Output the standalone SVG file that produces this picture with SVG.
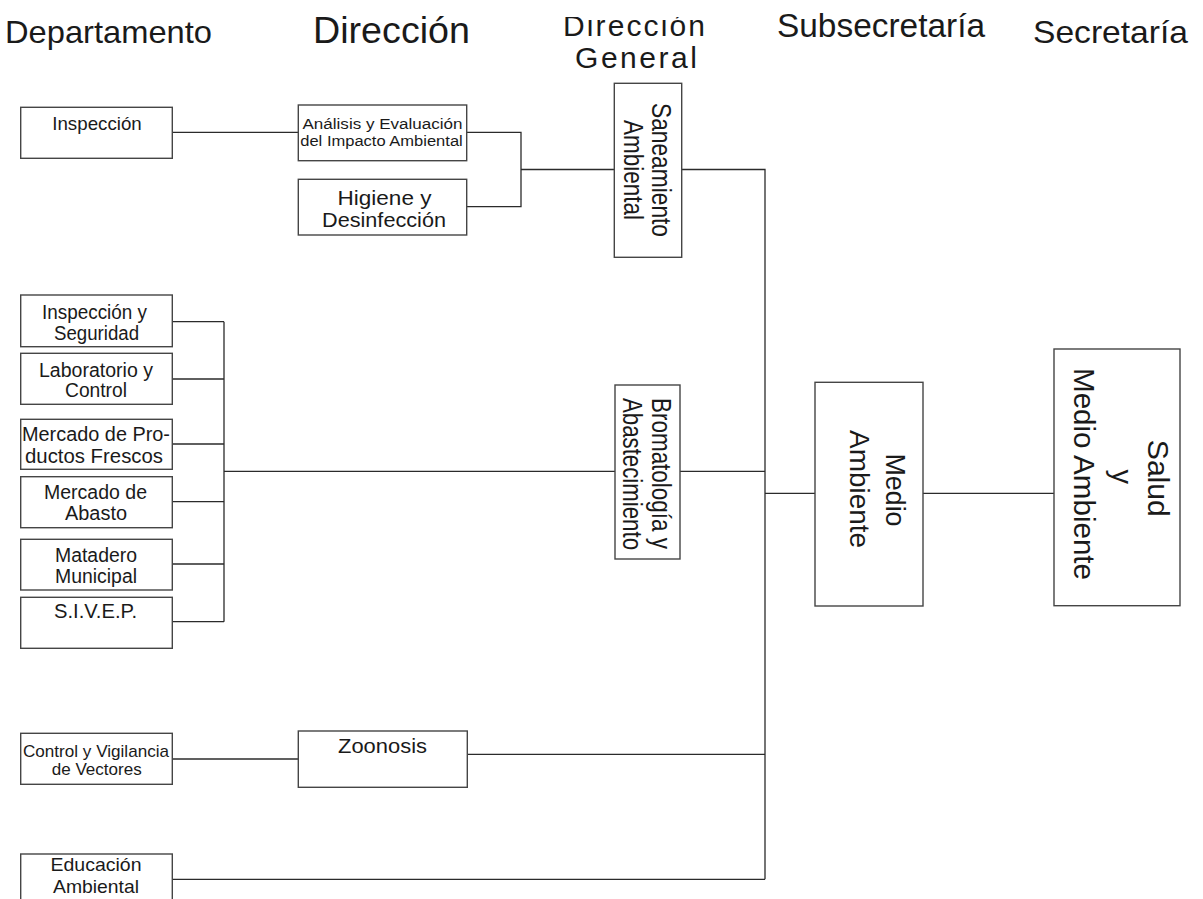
<svg xmlns="http://www.w3.org/2000/svg" width="1203" height="899" viewBox="0 0 1203 899">
<style>
text{font-family:"Liberation Sans",Arial,sans-serif;fill:#1a1a1a}
.c{text-anchor:middle}
.box{fill:#fff;stroke:#454545;stroke-width:1.4}
.ln{fill:none;stroke:#2b2b2b;stroke-width:1.3}
.f13{font-size:14px}
.f17{font-size:17px}
.f18{font-size:19px}
.f19{font-size:20px}
.f21{font-size:21px}
.r27{font-size:27.5px}
.r28{font-size:28px}
.r29{font-size:29px}
</style>
<defs>
<clipPath id="dgclip"><rect x="540" y="17" width="200" height="60"/></clipPath>
</defs>
<rect x="0" y="0" width="1203" height="899" fill="#fff"/>

<g id="headers">
<text x="5" y="43" font-size="30.5" textLength="207" lengthAdjust="spacingAndGlyphs">Departamento</text>
<text x="313" y="43" font-size="36" textLength="157" lengthAdjust="spacingAndGlyphs">Dirección</text>
<g clip-path="url(#dgclip)">
<text x="563" y="36" font-size="30" textLength="142">Dirección</text>
</g>
<text x="575" y="68" font-size="30" textLength="122">General</text>
<text x="777" y="37" font-size="33" textLength="208" lengthAdjust="spacingAndGlyphs">Subsecretaría</text>
<text x="1033" y="43" font-size="30.5" textLength="155" lengthAdjust="spacingAndGlyphs">Secretaría</text>
</g>

<g id="connectors">
<path class="ln" d="M172.3,132.3 H298.3"/>
<path class="ln" d="M466.7,132.3 H521 V206.7 H466.7"/>
<path class="ln" d="M521,169.5 H614.3"/>
<path class="ln" d="M681.7,169.5 H765 V879.3"/>
<path class="ln" d="M172.3,321.7 H224 M172.3,379 H224 M172.3,444 H224 M172.3,501.7 H224 M172.3,564 H224 M172.3,621.7 H224 M224,321.7 V621.7"/>
<path class="ln" d="M224,471.3 H615"/>
<path class="ln" d="M680,471.3 H765"/>
<path class="ln" d="M765,493.3 H815"/>
<path class="ln" d="M923,493.3 H1054"/>
<path class="ln" d="M172.3,759 H298.3"/>
<path class="ln" d="M467.3,754.3 H765"/>
<path class="ln" d="M172.3,879.3 H765"/>
</g>

<g id="n-inspeccion">
<rect class="box" x="20.7" y="107.3" width="151.6" height="51"/>
<text class="c f18" x="97" y="130" textLength="89.5" lengthAdjust="spacingAndGlyphs">Inspección</text>
</g>
<g id="n-analisis">
<rect class="box" x="298.3" y="105" width="168.4" height="55.7"/>
<text class="c f13" x="382.5" y="129" textLength="160" lengthAdjust="spacingAndGlyphs">Análisis y Evaluación</text>
<text class="c f13" x="381.5" y="145.7" textLength="162.5" lengthAdjust="spacingAndGlyphs">del Impacto Ambiental</text>
</g>
<g id="n-higiene">
<rect class="box" x="298.3" y="179.3" width="168.4" height="55.7"/>
<text class="c f21" x="384.5" y="205" textLength="94" lengthAdjust="spacingAndGlyphs">Higiene y</text>
<text class="c f21" x="384" y="227.3" textLength="124" lengthAdjust="spacingAndGlyphs">Desinfección</text>
</g>
<g id="n-saneamiento">
<rect class="box" x="614.3" y="83.3" width="67.4" height="174"/>
<text class="c r27" transform="translate(651.7,170) rotate(90)" textLength="134" lengthAdjust="spacingAndGlyphs">Saneamiento</text>
<text class="c r27" transform="translate(624,170) rotate(90)" textLength="100" lengthAdjust="spacingAndGlyphs">Ambiental</text>
</g>

<g id="n-insp-seg">
<rect class="box" x="20.7" y="295" width="151.6" height="51.7"/>
<text class="c f19" x="94.5" y="318.5" textLength="105" lengthAdjust="spacingAndGlyphs">Inspección y</text>
<text class="c f19" x="96.5" y="340" textLength="85" lengthAdjust="spacingAndGlyphs">Seguridad</text>
</g>
<g id="n-laboratorio">
<rect class="box" x="20.7" y="353.3" width="151.6" height="51"/>
<text class="c f19" x="96" y="376.5" textLength="114" lengthAdjust="spacingAndGlyphs">Laboratorio y</text>
<text class="c f19" x="96" y="397" textLength="62" lengthAdjust="spacingAndGlyphs">Control</text>
</g>
<g id="n-frescos">
<rect class="box" x="20.7" y="419.3" width="151.6" height="50"/>
<text class="c f19" x="96" y="440.5" textLength="148" lengthAdjust="spacingAndGlyphs">Mercado de Pro-</text>
<text class="c f19" x="94" y="462.5" textLength="138" lengthAdjust="spacingAndGlyphs">ductos Frescos</text>
</g>
<g id="n-abasto">
<rect class="box" x="20.7" y="476.7" width="151.6" height="51"/>
<text class="c f19" x="95.5" y="498.5" textLength="103" lengthAdjust="spacingAndGlyphs">Mercado de</text>
<text class="c f19" x="96" y="520" textLength="62" lengthAdjust="spacingAndGlyphs">Abasto</text>
</g>
<g id="n-matadero">
<rect class="box" x="20.7" y="539.3" width="151.6" height="50.7"/>
<text class="c f19" x="96" y="561.5" textLength="82" lengthAdjust="spacingAndGlyphs">Matadero</text>
<text class="c f19" x="96" y="583" textLength="82" lengthAdjust="spacingAndGlyphs">Municipal</text>
</g>
<g id="n-sivep">
<rect class="box" x="20.7" y="597.3" width="151.6" height="51"/>
<text class="c f19" x="95.5" y="617.5" textLength="83" lengthAdjust="spacingAndGlyphs">S.I.V.E.P.</text>
</g>

<g id="n-bromatologia">
<rect class="box" x="615" y="385" width="65" height="174"/>
<text class="c r27" transform="translate(651.7,473.5) rotate(90)" textLength="151" lengthAdjust="spacingAndGlyphs">Bromatología y</text>
<text class="c r27" transform="translate(623.3,474) rotate(90)" textLength="152" lengthAdjust="spacingAndGlyphs">Abastecimiento</text>
</g>

<g id="n-medio-ambiente">
<rect class="box" x="815" y="382.3" width="108" height="223.7"/>
<text class="c r28" transform="translate(886,490) rotate(90)" textLength="73" lengthAdjust="spacingAndGlyphs">Medio</text>
<text class="c r28" transform="translate(850,489) rotate(90)" textLength="118" lengthAdjust="spacingAndGlyphs">Ambiente</text>
</g>

<g id="n-salud">
<rect class="box" x="1054" y="349" width="126" height="256.7"/>
<text class="c r29" transform="translate(1148.3,478.3) rotate(90)" textLength="77" lengthAdjust="spacingAndGlyphs">Salud</text>
<text class="c r29" transform="translate(1112,476.7) rotate(90)">y</text>
<text class="c r29" transform="translate(1074,474) rotate(90)" textLength="212" lengthAdjust="spacingAndGlyphs">Medio Ambiente</text>
</g>

<g id="n-control-vig">
<rect class="box" x="20.7" y="733.3" width="151.6" height="51"/>
<text class="c f17" x="96" y="757" textLength="146" lengthAdjust="spacingAndGlyphs">Control y Vigilancia</text>
<text class="c f17" x="96.7" y="775" textLength="90" lengthAdjust="spacingAndGlyphs">de Vectores</text>
</g>
<g id="n-zoonosis">
<rect class="box" x="298.3" y="731" width="169" height="56.3"/>
<text class="c f21" x="382.5" y="753.3" textLength="89" lengthAdjust="spacingAndGlyphs">Zoonosis</text>
</g>
<g id="n-educacion">
<rect class="box" x="20.7" y="854" width="151.6" height="60"/>
<text class="c f18" x="96" y="870.7" textLength="91" lengthAdjust="spacingAndGlyphs">Educación</text>
<text class="c f18" x="96" y="892.7" textLength="86" lengthAdjust="spacingAndGlyphs">Ambiental</text>
</g>
</svg>
